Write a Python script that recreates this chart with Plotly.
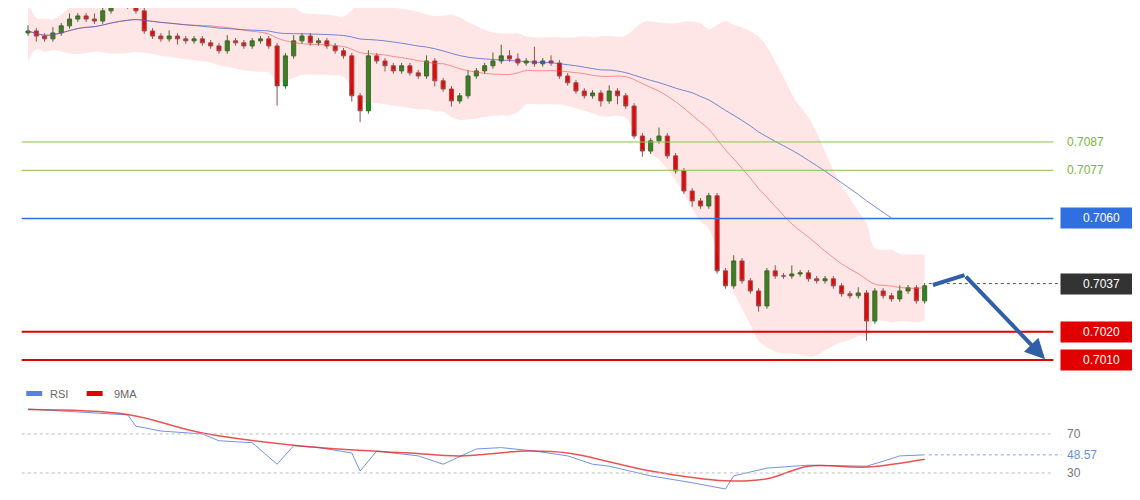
import plotly.graph_objects as go
import pandas as pd

# candle closes
closes = [.71262,.71244,.71234,.71255,.71280,.71304,.71315,.71304,.71297,.71333,
          .71361,.71357,.71350,.71333,.71262,.71244,.71234,.71244,.71234,.71227,
          .71234,.71220,.71209,.71192,.71227,.71220,.71209,.71227,.71234,.71209,
          .71068,.71174,.71227,.71244,.71220,.71227,.71209,.71192,.71174,.71033,
          .70980,.71174,.71156,.71139,.71121,.71139,.71114,.71103,.71156,.71086,
          .71057,.71015,.71033,.71103,.71121,.71139,.71156,.71174,.71163,.71149,
          .71156,.71146,.71156,.71149,.71103,.71079,.71050,.71033,.71043,.71015,
          .71050,.71033,.70997,.70891,.70838,.70874,.70891,.70821,.70768,.70697,
          .70662,.70644,.70680,.70415,.70362,.70450,.70380,.70344,.70291,.70415,
          .70397,.70397,.70404,.70408,.70387,.70380,.70387,.70362,.70334,.70327,
          .70337,.70238,.70344,.70327,.70316,.70344,.70355,.70309,.70362]
first_open = .71255
# wick lengths beyond the body, in pips
wick_up = [2,1,1,2,1,2,1,1,2,1, 1,1,1,1,1,1,1,2,1,1, 1,1,1,1,2,1,1,1,1,1,
           1,1,2,1,1,1,1,1,1,1, 1,2,1,1,1,1,1,1,2,1, 1,1,1,2,1,1,3,4,2,2,
           1,5,1,2,1,1,1,1,1,1, 2,1,1,1,1,1,3,1,1,1, 1,1,1,1,1,2,1,1,1,1,
           2,1,3,1,1,1,1,1,1,1, 2,1,1,1,1,2,1,1,1]
wick_dn = [1,2,1,1,1,1,1,1,1,1, 1,1,1,1,1,1,1,1,2,1, 1,1,1,1,1,1,1,1,1,1,
           7,1,1,1,1,1,1,1,1,2, 4,1,1,2,1,1,1,1,1,2, 1,2,1,1,1,1,1,1,1,1,
           1,1,1,1,1,1,1,1,1,2, 1,3,1,1,2,1,1,1,1,1, 2,1,1,1,1,1,1,1,2,1,
           1,1,1,1,1,1,1,1,1,1, 1,7,1,1,1,1,1,1,1]

# RSI panel, sparse points
rsi_idx = [0,12,13,16,21,23,27,30,32,35,39,40,42,47,50,54,57,61,65,68,70,75,80,84,85,89,94,101,103,105,108]
rsi_val = [95.6,89.5,78,73,70,63,61,39,58,56,50.5,32,52.5,47.5,39,54.6,56,52.5,47.5,39,37,27,20,13.6,27,35,38,37,42,47.5,48.57]
ma9_idx = [0,12,21,35,46,52,60,65,75,84,89,94,101,108]
ma9_val = [95,90,71,56,50.5,47.5,52.5,50.5,32,22,24,37,36,44]

levels = [0.7087, 0.7077, 0.7060, 0.7037, 0.7020, 0.7010]
level_colors = ["#8bc34a", "#8bc34a", "#2f6fe0", "#333333", "#e00000", "#e00000"]

n = len(closes)
idx = list(range(n))
opens = [first_open] + closes[:-1]
highs = [max(o, c) + w / 10000 for o, c, w in zip(opens, closes, wick_up)]
lows = [min(o, c) - w / 10000 for o, c, w in zip(opens, closes, wick_dn)]

s = pd.Series(closes)
ma20 = s.rolling(20, min_periods=1).mean()
sd = s.rolling(20, min_periods=2).std().fillna(0.0004)
upper = ma20 + 2 * sd + 0.0003
lower = ma20 - 2 * sd - 0.0003
ma50 = s.rolling(40, min_periods=1).mean()

fig = go.Figure()
fig.add_trace(go.Scatter(x=idx, y=upper, mode="lines", line=dict(width=0, shape="spline"), hoverinfo="skip"))
fig.add_trace(go.Scatter(x=idx, y=lower, mode="lines", line=dict(width=0, shape="spline"), fill="tonexty",
                         fillcolor="rgba(255,60,60,0.13)", hoverinfo="skip"))
fig.add_trace(go.Scatter(x=idx, y=ma20, mode="lines", line=dict(color="rgba(240,80,80,0.6)", width=1, shape="spline")))
fig.add_trace(go.Scatter(x=idx[:-4], y=ma50[:-4], mode="lines", line=dict(color="rgba(60,90,200,0.7)", width=1, shape="spline")))
fig.add_trace(go.Candlestick(x=idx, open=opens, high=highs, low=lows, close=closes,
                             increasing=dict(line=dict(color="#2a6e2a", width=1), fillcolor="#1e8a1e"),
                             decreasing=dict(line=dict(color="#8a5050", width=1), fillcolor="#e00000"),
                             whiskerwidth=0))

fig.add_trace(go.Scatter(x=rsi_idx, y=rsi_val, mode="lines", yaxis="y2",
                         line=dict(color="rgba(80,120,220,0.8)", width=1)))
fig.add_trace(go.Scatter(x=ma9_idx, y=ma9_val, mode="lines", yaxis="y2",
                         line=dict(color="rgba(230,40,40,0.8)", width=1.5, shape="spline")))

shapes = []
for lv, col in zip(levels, level_colors):
    if lv == 0.7037:
        shapes.append(dict(type="line", xref="x", yref="y", x0=108.5, x1=124.5, y0=lv, y1=lv,
                           line=dict(color="#555", width=1, dash="dot")))
    else:
        w = 2 if col == "#e00000" else 1.5 if col == "#2f6fe0" else 1
        shapes.append(dict(type="line", xref="paper", yref="y", x0=0.012, x1=0.917, y0=lv, y1=lv,
                           line=dict(color=col, width=w)))
for v, col in [(70, "#bbb"), (30, "#bbb")]:
    shapes.append(dict(type="line", xref="paper", yref="y2", x0=0.012, x1=0.917, y0=v, y1=v,
                       line=dict(color=col, width=1, dash="dot")))
shapes.append(dict(type="line", xref="x", yref="y2", x0=108.5, x1=124.5, y0=48.57, y1=48.57,
                   line=dict(color="rgba(80,120,220,0.7)", width=1, dash="dot")))
# projected move arrow
shapes.append(dict(type="line", xref="x", yref="y", x0=109, x1=112.8, y0=0.70365, y1=0.70400,
                   line=dict(color="#2f5fa8", width=4)))

annotations = []
for lv, col in zip(levels, level_colors):
    boxed = col != "#8bc34a"
    if boxed:
        annotations.append(dict(xref="paper", yref="y", x=0.959, y=lv, text=f"{lv:.4f}", showarrow=False,
                                font=dict(size=12, color="white", family="Arial"),
                                bgcolor=col, borderpad=3, xanchor="center", width=75))
    else:
        annotations.append(dict(xref="paper", yref="y", x=0.927, y=lv, text=f"{lv:.4f}", showarrow=False,
                                font=dict(size=12, color="#7cb342", family="Arial"), xanchor="left"))
annotations.append(dict(xref="x", yref="y", ax=112.8, ay=0.70400, axref="x", ayref="y",
                        x=122.5, y=0.70103, showarrow=True, arrowhead=2, arrowsize=1,
                        arrowwidth=4, arrowcolor="#2f5fa8", text=""))
for v, txt, col in [(70, "70", "#777"), (48.57, "48.57", "#6a8fd8"), (30, "30", "#777")]:
    annotations.append(dict(xref="paper", yref="y2", x=0.927, y=v, text=txt, showarrow=False,
                            xanchor="left", font=dict(size=12, color=col, family="Arial")))
annotations.append(dict(xref="paper", yref="paper", x=0.035, y=0.229, text="RSI", showarrow=False,
                        xanchor="left", yanchor="middle", font=dict(size=11, color="#666", family="Arial")))
annotations.append(dict(xref="paper", yref="paper", x=0.091, y=0.229, text="9MA", showarrow=False,
                        xanchor="left", yanchor="middle", font=dict(size=11, color="#666", family="Arial")))
shapes.append(dict(type="rect", xref="paper", yref="paper", x0=0.016, x1=0.03, y0=0.224, y1=0.234,
                   fillcolor="#5a82dc", line=dict(width=0)))
shapes.append(dict(type="rect", xref="paper", yref="paper", x0=0.069, x1=0.083, y0=0.224, y1=0.234,
                   fillcolor="#e00000", line=dict(width=0)))

fig.update_layout(
    width=1140, height=500, margin=dict(l=0, r=0, t=0, b=0),
    paper_bgcolor="white", plot_bgcolor="white", showlegend=False,
    xaxis=dict(range=[-2.41, 134.9], visible=False, rangeslider=dict(visible=False)),
    yaxis=dict(domain=[0.25, 1], range=[0.70019, 0.71343], visible=False),
    yaxis2=dict(domain=[0, 0.2], range=[-5.9, 96.6], visible=False),
    shapes=shapes, annotations=annotations,
)
fig.write_html("out.html")
